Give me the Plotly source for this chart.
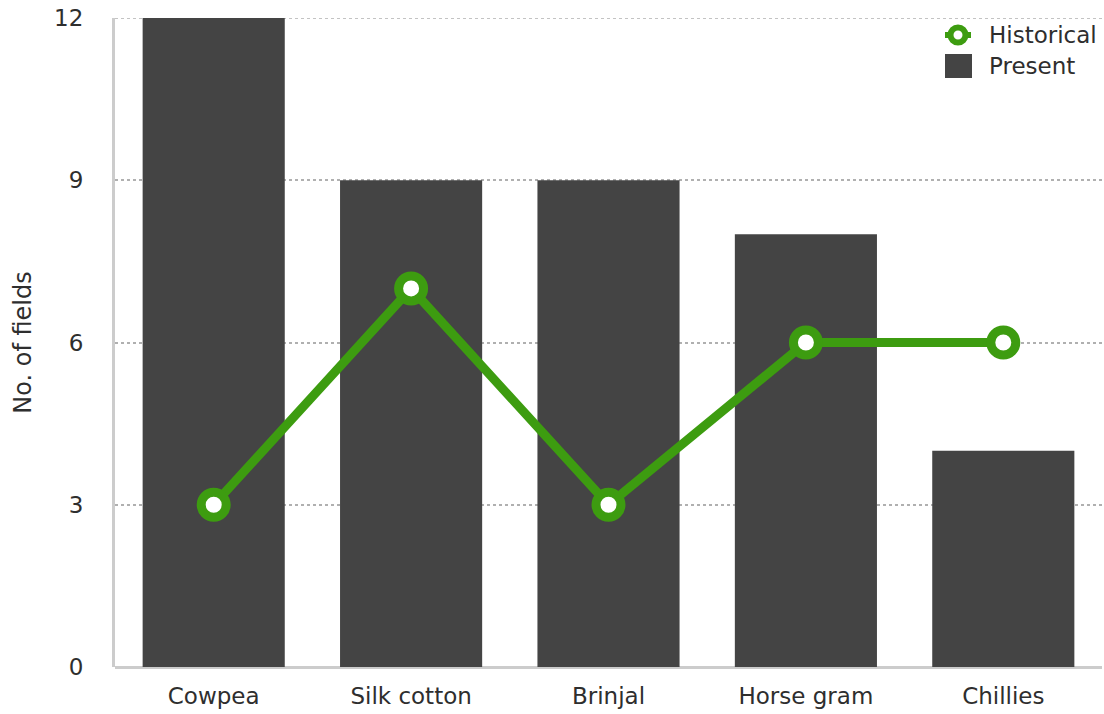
import plotly.graph_objects as go

crops = ["Cowpea", "Silk cotton", "Brinjal", "Horse gram", "Chillies"]
present = [12, 9, 9, 8, 4]
historical = [3, 7, 3, 6, 6]
y_ticks = [0, 3, 6, 9, 12]

GREEN = "#3d9c10"
BAR = "#444444"
TEXT = "#2e2e2e"
FONT = "DejaVu Sans, Verdana, sans-serif"

fig = go.Figure()

fig.add_trace(go.Bar(
    x=crops, y=present, name="Present",
    marker=dict(color=BAR, line=dict(width=0)),
    width=0.72, showlegend=False,
))

fig.add_trace(go.Scatter(
    x=crops, y=historical, name="Historical",
    mode="lines+markers",
    line=dict(color=GREEN, width=9),
    marker=dict(size=25, color="white", line=dict(color=GREEN, width=9)),
    showlegend=False,
))

# dotted gridline along the top tick, which the axis skips at the range edge
fig.add_shape(type="line", xref="paper", yref="y",
              x0=0, x1=1, y0=y_ticks[-1], y1=y_ticks[-1],
              line=dict(color="#b0b0b0", width=1.5, dash="dot"), layer="below")

# legend drawn as paper-anchored pixel shapes and text
legend_items = [("Historical", "circle"), ("Present", "square")]
for i, (label, kind) in enumerate(legend_items):
    yc = -17 - 31 * i  # pixel offset from top of plot area
    if kind == "circle":
        fig.add_shape(type="line", xref="paper", yref="paper",
                      xsizemode="pixel", ysizemode="pixel",
                      xanchor=1, yanchor=1,
                      x0=-157, x1=-131, y0=yc, y1=yc,
                      line=dict(color=GREEN, width=6))
        fig.add_shape(type="circle", xref="paper", yref="paper",
                      xsizemode="pixel", ysizemode="pixel",
                      xanchor=1, yanchor=1,
                      x0=-151.5, x1=-136.5, y0=yc - 7.5, y1=yc + 7.5,
                      line=dict(color=GREEN, width=6), fillcolor="white")
    else:
        fig.add_shape(type="rect", xref="paper", yref="paper",
                      xsizemode="pixel", ysizemode="pixel",
                      xanchor=1, yanchor=1,
                      x0=-157, x1=-130, y0=yc - 12, y1=yc + 12,
                      line=dict(width=0), fillcolor=BAR)
    fig.add_annotation(xref="paper", yref="paper", x=1, y=1,
                       xanchor="left", yanchor="middle",
                       xshift=-115, yshift=yc,
                       text=label, showarrow=False,
                       font=dict(size=23, color=TEXT, family=FONT))

fig.update_layout(
    width=1104, height=714,
    margin=dict(l=115, r=2, t=18, b=47),
    paper_bgcolor="white", plot_bgcolor="white",
    font=dict(family=FONT, size=23, color=TEXT),
    bargap=0.28,
    showlegend=False,
)

fig.update_xaxes(
    range=[-0.5, 4.5],
    showgrid=False, zeroline=False,
    showline=False,
    ticks="", ticklabelstandoff=13,
    tickfont=dict(size=23, color=TEXT),
)

fig.update_yaxes(
    range=[0, 12], tickvals=y_ticks,
    showgrid=True, gridcolor="#b0b0b0", griddash="dot", gridwidth=1.5,
    zeroline=True, zerolinecolor="#cccccc", zerolinewidth=3,
    showline=True, linecolor="#cccccc", linewidth=3,
    ticks="", ticklabelstandoff=24,
    tickfont=dict(size=23, color=TEXT),
    title=dict(text="No. of fields", standoff=16,
               font=dict(size=24, color=TEXT)),
)

fig.write_html("out.html")
